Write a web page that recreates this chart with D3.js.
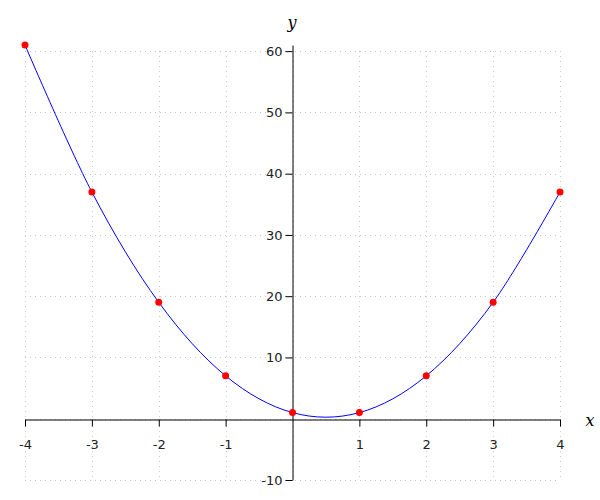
<!DOCTYPE html>
<html>
<head>
<meta charset="utf-8">
<script src="https://cdn.jsdelivr.net/npm/d3@7/dist/d3.min.js"></script>
<style>
html,body{margin:0;padding:0;background:#fff;}
svg{display:block;}
.tick text{font-family:"DejaVu Sans",sans-serif;font-size:13px;fill:#222;}
</style>
</head>
<body>
<svg id="chart" width="600" height="500"></svg>
<script>
const xValues = [-4, -3, -2, -1, 0, 1, 2, 3, 4];
const yValues = [61, 37, 19, 7, 1, 1, 7, 19, 37];
const xTicks = [-4, -3, -2, -1, 1, 2, 3, 4];
const yTicks = [-10, 10, 20, 30, 40, 50, 60];
const xGrid = [-4, -3, -2, -1, 0, 1, 2, 3, 4];
const yGrid = [-10, 0, 10, 20, 30, 40, 50, 60];

const svg = d3.select("#chart");
const x = d3.scaleLinear().domain([-4, 4]).range([25, 560]);
const y = d3.scaleLinear().domain([-10, 61]).range([480, 45]);

// grid
const grid = svg.append("g").attr("stroke", "#c8c8c8").attr("stroke-width", 1).attr("stroke-dasharray", "1,4");
grid.selectAll(".gx").data(xGrid).join("line")
  .attr("x1", d => Math.round(x(d)) + 0.5).attr("x2", d => Math.round(x(d)) + 0.5)
  .attr("y1", y(60)).attr("y2", y(-10));
grid.selectAll(".gy").data(yGrid).join("line")
  .attr("y1", d => Math.round(y(d)) + 0.5).attr("y2", d => Math.round(y(d)) + 0.5)
  .attr("x1", x(-4)).attr("x2", x(4));

// axes
const fmt = d => String(d);
const y0 = Math.round(y(0)) + 0.5;
const x0 = Math.round(x(0)) - 0.5;
svg.append("g").attr("transform", `translate(0,${y0})`)
  .call(d3.axisBottom(x).tickValues(xTicks).tickSize(7).tickSizeOuter(0).tickPadding(13).tickFormat(fmt));
svg.append("g").attr("transform", `translate(${x0},0)`)
  .call(d3.axisLeft(y).tickValues(yTicks).tickSize(7).tickSizeOuter(0).tickPadding(3).tickFormat(fmt));
svg.selectAll(".domain, .tick line").attr("stroke", "#000");
svg.selectAll(".tick text").attr("fill", "#222");

// axis labels
svg.append("text").attr("x", 292).attr("y", 28).attr("text-anchor", "middle")
  .attr("font-family", "DejaVu Serif, serif").attr("font-style", "italic").attr("font-size", 16).text("y");
svg.append("text").attr("x", 590).attr("y", 426).attr("text-anchor", "middle")
  .attr("font-family", "DejaVu Serif, serif").attr("font-style", "italic").attr("font-size", 16).text("x");

// curve
const data = xValues.map((v, i) => ({x: v, y: yValues[i]}));
const line = d3.line().x(d => x(d.x)).y(d => y(d.y)).curve(d3.curveCatmullRom.alpha(0));
svg.append("path").datum(data).attr("d", line).attr("fill", "none").attr("stroke", "#0000ff").attr("stroke-width", 1);

// points
svg.selectAll(".pt").data(data).join("circle")
  .attr("cx", d => x(d.x)).attr("cy", d => y(d.y)).attr("r", 3.5).attr("fill", "#ff0000");
</script>
</body>
</html>
